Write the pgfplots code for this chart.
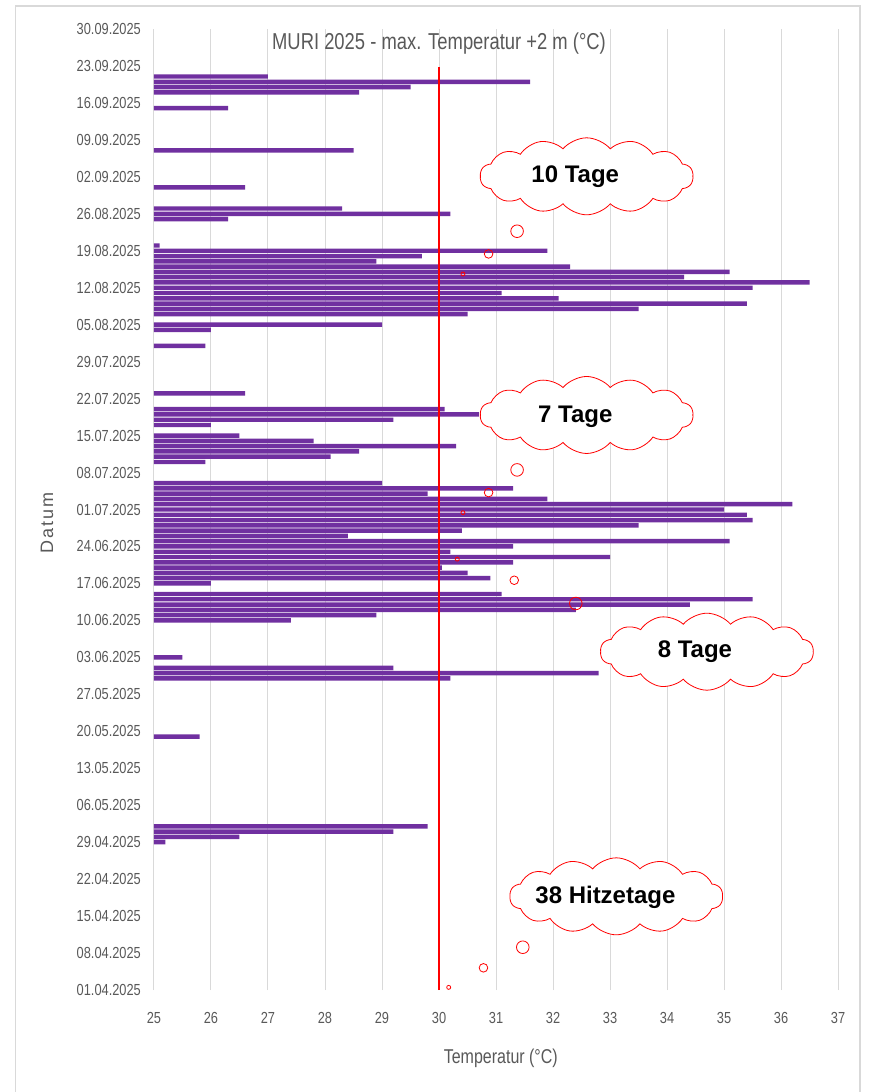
\documentclass[border=0pt]{standalone}
\usepackage{pgfplots}
\pgfplotsset{compat=1.18}
\usepackage{pgfplotstable}
\usepackage{fontspec}
\setmainfont[FakeStretch=0.8]{Liberation Sans}
\newfontfamily\cloudfont{Liberation Sans}
\newfontfamily\datumfont[LetterSpace=12]{Liberation Sans}
\usetikzlibrary{shapes.symbols}
\definecolor{barpurple}{HTML}{7030A0}
\definecolor{txtgray}{HTML}{595959}
\definecolor{gridgray}{HTML}{D9D9D9}

\pgfplotstableread{
day temp
28 25.2
29 26.5
30 29.2
31 29.8
48 25.8
59 30.2
60 32.8
61 29.2
63 25.5
70 27.4
71 28.9
72 32.4
73 34.4
74 35.5
75 31.1
77 26.0
78 30.9
79 30.5
80 30.05
81 31.3
82 33.0
83 30.2
84 31.3
85 35.1
86 28.4
87 30.4
88 33.5
89 35.5
90 35.4
91 35.0
92 36.2
93 31.9
94 29.8
95 31.3
96 29.0
100 25.9
101 28.1
102 28.6
103 30.3
104 27.8
105 26.5
107 26.0
108 29.2
109 30.7
110 30.1
113 26.6
122 25.9
125 26.0
126 29.0
128 30.5
129 33.5
130 35.4
131 32.1
132 31.1
133 35.5
134 36.5
135 34.3
136 35.1
137 32.3
138 28.9
139 29.7
140 31.9
141 25.1
146 26.3
147 30.2
148 28.3
152 26.6
159 28.5
167 26.3
170 28.6
171 29.5
172 31.6
173 27.0
}\datatable

\tikzset{
  bubble/.style={cloud, cloud puffs=14, cloud puff arc=100, cloud ignores aspect, draw=red, fill=white,
    line width=0.8pt, minimum width=213pt, minimum height=77pt, inner sep=0pt},
  cloudtext/.style={font=\cloudfont\bfseries\fontsize{24}{24}\selectfont, text=black},
}

\begin{document}
\begin{tikzpicture}
\useasboundingbox (-154pt,-102pt) rectangle (717pt,990pt);
\draw[gridgray, line width=1.2pt] (-138.4pt,-110pt) -- (-138.4pt,984pt) -- (706pt,984pt) -- (706pt,-110pt);
\begin{axis}[
  at={(0pt,0pt)}, anchor=south west,
  scale only axis, width=684pt, height=961pt,
  xmin=25, xmax=37, ymin=0, ymax=182,
  axis line style={draw=none},
  major tick length=0pt,
  xtick={25,26,...,37},
  ytick={0,7,...,182},
  yticklabels={01.04.2025,08.04.2025,15.04.2025,22.04.2025,29.04.2025,06.05.2025,13.05.2025,20.05.2025,27.05.2025,03.06.2025,10.06.2025,17.06.2025,24.06.2025,01.07.2025,08.07.2025,15.07.2025,22.07.2025,29.07.2025,05.08.2025,12.08.2025,19.08.2025,26.08.2025,02.09.2025,09.09.2025,16.09.2025,23.09.2025,30.09.2025},
  xmajorgrids,
  grid style={gridgray, line width=1pt},
  tick label style={font=\fontsize{16}{16}\selectfont, text=txtgray},
  /pgf/number format/assume math mode=true,
  xticklabel style={anchor=center, yshift=-28pt},
  yticklabel style={anchor=east, inner sep=0pt, xshift=-13pt},
  xlabel={Temperatur (°C)},
  xlabel style={at={(axis description cs:0.507,-0.0708)}, anchor=center, font=\fontsize{20}{20}\selectfont, text=txtgray},
  ylabel={Datum},
  ylabel style={at={(axis description cs:-0.1564,0.486)}, anchor=center, font=\datumfont\fontsize{18}{18}\selectfont, text=txtgray},
]
\addplot[xbar, bar width=0.84, fill=barpurple, draw=none] table[x=temp, y=day] {\datatable};
\addplot[red, line width=2pt] coordinates {(30,0) (30,174.8)};

\node[font=\fontsize{23}{23}\selectfont, text=txtgray] at (axis cs:30,179.3) {MURI 2025 - max. Temperatur +2 m (°C)};

% 10 Tage
\node[bubble] at (axis cs:32.59,154.1) {};
\node[cloudtext] at (axis cs:32.39,154.0) {10 Tage};
\draw[red, line width=0.8pt] (axis cs:31.37,143.7) circle[radius=6.3pt];
\draw[red, line width=0.8pt] (axis cs:30.87,139.4) circle[radius=4.3pt];
\draw[red, line width=0.8pt] (axis cs:30.42,135.6) circle[radius=2pt];
% 7 Tage
\node[bubble] at (axis cs:32.59,108.9) {};
\node[cloudtext] at (axis cs:32.39,108.6) {7 Tage};
\draw[red, line width=0.8pt] (axis cs:31.37,98.5) circle[radius=6.3pt];
\draw[red, line width=0.8pt] (axis cs:30.87,94.2) circle[radius=4.3pt];
\draw[red, line width=0.8pt] (axis cs:30.42,90.4) circle[radius=2pt];
% 8 Tage
\node[bubble] at (axis cs:34.70,64.07) {};
\node[cloudtext] at (axis cs:34.49,64.07) {8 Tage};
\draw[red, line width=0.8pt] (axis cs:32.40,73.2) circle[radius=6.3pt];
\draw[red, line width=0.8pt] (axis cs:31.32,77.6) circle[radius=4.3pt];
\draw[red, line width=0.8pt] (axis cs:30.32,81.6) circle[radius=2pt];
% 38 Hitzetage
\node[bubble] at (axis cs:33.11,17.74) {};
\node[cloudtext] at (axis cs:32.92,17.5) {38 Hitzetage};
\draw[red, line width=0.8pt] (axis cs:31.47,8.1) circle[radius=6.3pt];
\draw[red, line width=0.8pt] (axis cs:30.78,4.2) circle[radius=4.3pt];
\draw[red, line width=0.8pt] (axis cs:30.17,0.5) circle[radius=2pt];
\end{axis}
\end{tikzpicture}
\end{document}
